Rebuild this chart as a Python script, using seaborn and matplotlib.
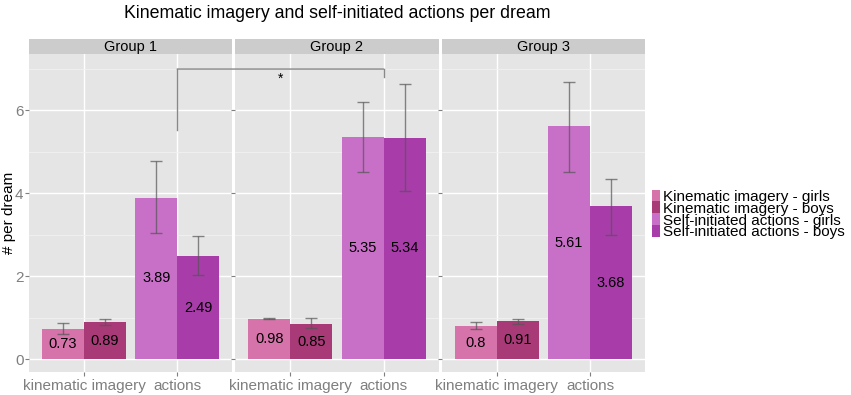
import matplotlib
matplotlib.use('Agg')
import matplotlib.pyplot as plt
from matplotlib.patches import Rectangle, Patch, ConnectionPatch
import numpy as np
import pandas as pd
import seaborn as sns

groups = ['Group 1', 'Group 2', 'Group 3']
measures = ['kinematic imagery', 'actions']

kin_girls = [0.73, 0.98, 0.80]
kin_boys = [0.89, 0.85, 0.91]
act_girls = [3.89, 5.35, 5.61]
act_boys = [2.49, 5.34, 3.68]

# error bar ends
kin_girls_lo = [0.60, 0.96, 0.72]
kin_girls_hi = [0.87, 1.00, 0.90]
kin_boys_lo = [0.82, 0.75, 0.86]
kin_boys_hi = [0.96, 1.00, 0.98]
act_girls_lo = [3.03, 4.50, 4.52]
act_girls_hi = [4.77, 6.20, 6.68]
act_boys_lo = [2.04, 4.05, 3.00]
act_boys_hi = [2.96, 6.63, 4.35]

series_names = ['Kinematic imagery - girls', 'Kinematic imagery - boys',
                'Self-initiated actions - girls', 'Self-initiated actions - boys']
series_colors = ['#D673AA', '#A83B77', '#C870C8', '#A83DAA']

rows = []
for i, g in enumerate(groups):
    for m, sex, v, lo, hi, name in [
        ('kinematic imagery', 'girls', kin_girls[i], kin_girls_lo[i], kin_girls_hi[i], series_names[0]),
        ('kinematic imagery', 'boys', kin_boys[i], kin_boys_lo[i], kin_boys_hi[i], series_names[1]),
        ('actions', 'girls', act_girls[i], act_girls_lo[i], act_girls_hi[i], series_names[2]),
        ('actions', 'boys', act_boys[i], act_boys_lo[i], act_boys_hi[i], series_names[3]),
    ]:
        rows.append(dict(group=g, measure=m, sex=sex, value=v, lo=lo, hi=hi, series=name))
df = pd.DataFrame(rows)
color_of = dict(zip(series_names, series_colors))

plt.rcParams['font.family'] = ['Liberation Sans', 'DejaVu Sans']

fig, axes = plt.subplots(1, 3, sharey=True, figsize=(8.51, 3.95), dpi=100)
fig.subplots_adjust(left=0.034, right=0.758, top=0.863, bottom=0.058, wspace=0.015)

for ax, g in zip(axes, groups):
    sub = df[df.group == g]
    ax.set_facecolor('#E5E5E5')
    ax.set_axisbelow(True)
    sns.barplot(data=sub, x='measure', y='value', hue='sex', order=measures,
                hue_order=['girls', 'boys'], width=0.9, errorbar=None,
                saturation=1, linewidth=0, legend=False, ax=ax)
    for sex, cont in zip(['girls', 'boys'], ax.containers):
        labels = []
        for m, bar in zip(measures, cont):
            r = sub[(sub.measure == m) & (sub.sex == sex)].iloc[0]
            bar.set_facecolor(color_of[r.series])
            xc = bar.get_x() + bar.get_width() / 2
            ax.errorbar(xc, r.value, yerr=[[r.value - r.lo], [r.hi - r.value]],
                        fmt='none', ecolor='#555555', alpha=0.7, elinewidth=1,
                        capsize=4, capthick=1)
            labels.append(f'{r.value:g}')
        ax.bar_label(cont, labels=labels, label_type='center', fontsize=10.5, color='black')

    ax.set_xlim(-0.59, 1.59)
    ax.set_ylim(-0.31, 7.35)
    ax.set_yticks([0, 2, 4, 6])
    ax.set_yticks([1, 3, 5, 7], minor=True)
    ax.grid(which='major', color='white', linewidth=1.0)
    ax.grid(which='minor', axis='y', color='#F2F2F2', linewidth=0.6)
    ax.tick_params(axis='both', which='major', colors='#7F7F7F', labelsize=11, length=3, width=0.8, pad=2)
    ax.tick_params(axis='y', which='major', pad=1)
    ax.tick_params(axis='y', which='minor', length=0)
    ax.set_xlabel('')
    ax.set_ylabel('')
    for s in ax.spines.values():
        s.set_visible(False)
    # facet strip
    ax.add_patch(Rectangle((0, 1.0), 1, 15 / 318, transform=ax.transAxes,
                           facecolor='#CCCCCC', edgecolor='none', clip_on=False))
    ax.text(0.5, 1.0 + 7.5 / 318, g, transform=ax.transAxes, ha='center', va='center',
            fontsize=10.5, color='black')

fig.text(9.5 / 851, 1 - 213 / 395, '# per dream', rotation=90, ha='center', va='center',
         fontsize=11, color='black')

# significance bracket between Group 1 and Group 2 actions
ax1, ax2 = axes[0], axes[1]
ax1.plot([1, 1], [5.52, 6.99], color='#888888', lw=1, clip_on=False)
ax2.plot([1, 1], [6.99, 6.80], color='#888888', lw=1, clip_on=False)
fig.add_artist(ConnectionPatch(xyA=(1, 6.99), coordsA=ax1.transData,
                               xyB=(1, 6.99), coordsB=ax2.transData,
                               color='#888888', lw=1))
ax2.text(-0.106, 6.65, '*', ha='center', va='baseline', fontsize=10, color='black')

fig.suptitle('Kinematic imagery and self-initiated actions per dream',
             x=0.396, y=0.988, fontsize=12.8)

handles = [Patch(facecolor=c, edgecolor='none') for c in series_colors]
fig.legend(handles, series_names, loc='center left', bbox_to_anchor=(652 / 851, 1 - 214.5 / 395),
           frameon=False, fontsize=11, handlelength=0.55, handleheight=0.9,
           handletextpad=0.2, labelspacing=-0.2, borderpad=0, borderaxespad=0)

fig.savefig('out.png', dpi=100)
